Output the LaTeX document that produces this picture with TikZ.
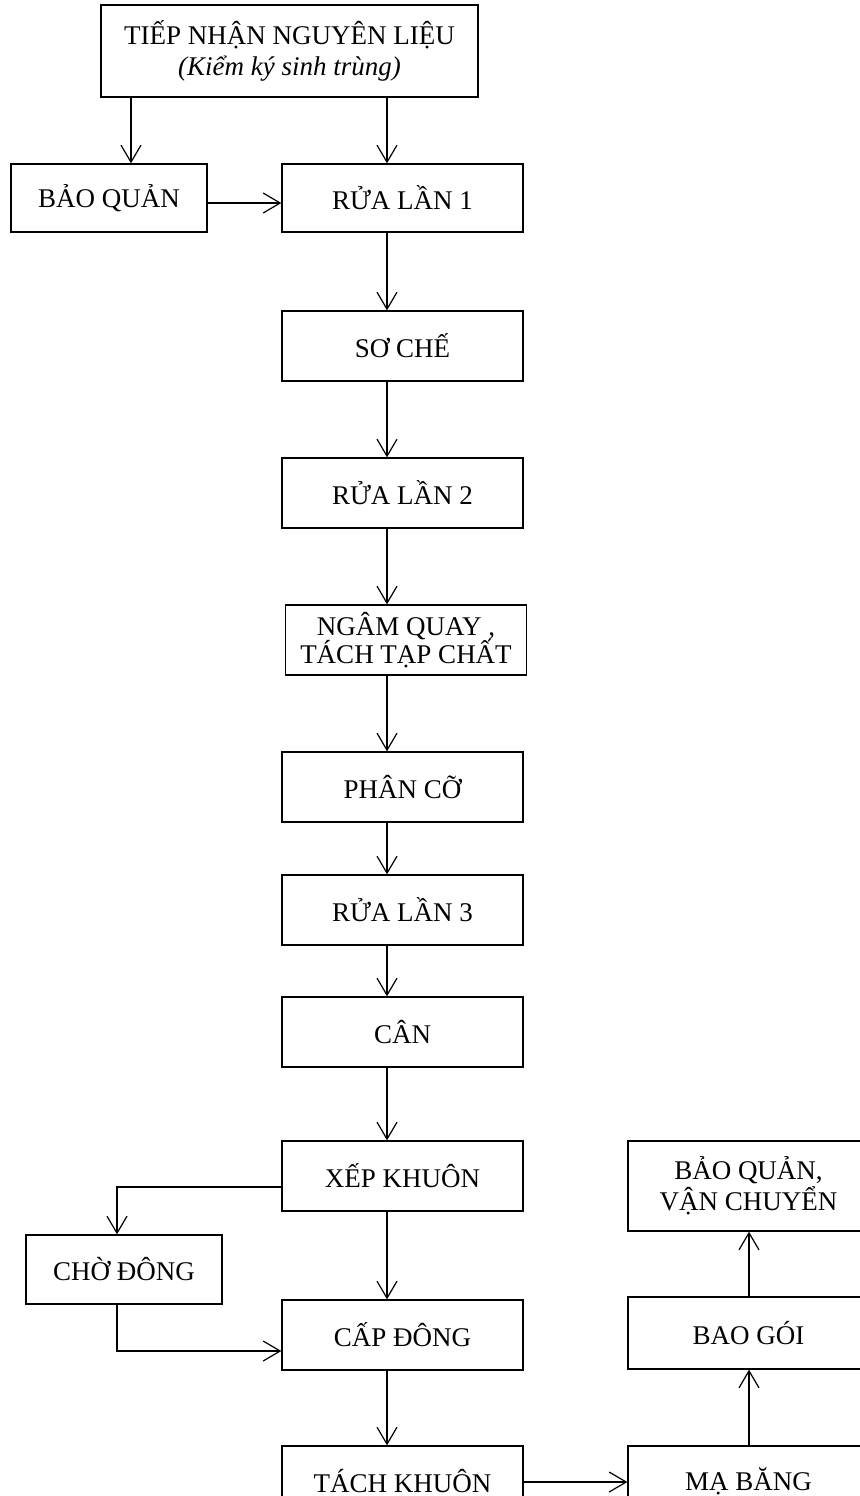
\documentclass[tikz,border=0pt]{standalone}
\usepackage{fontspec}
\setmainfont{Liberation Serif}
\usetikzlibrary{arrows.meta}
\begin{document}
\begin{tikzpicture}[x=0.75pt,y=-0.75pt,
  box/.style={draw,line width=1pt,minimum width=180.75pt,minimum height=52.5pt,inner sep=0pt,align=center,
    font=\fontsize{20.25}{23}\selectfont},
  smallbox/.style={box,minimum width=147pt},
  arr/.style={line width=0.9pt,-{Straight Barb[length=12.75pt,width=15pt,line width=0.9pt]}},
  ln/.style={line width=0.9pt}]
\clip (0,0) rectangle (860,1496);
\fill[white] (0,0) rectangle (860,1496);
% nodes
\node[box,minimum width=282.75pt,minimum height=69pt,font=\fontsize{20.25}{23.5}\selectfont] (top) at (289.5,51) {TIẾP NHẬN NGUYÊN LIỆU\\\textit{(Kiểm ký sinh trùng)}};
\node[smallbox,minimum height=51pt] (bq) at (109,198) {BẢO QUẢN};
\node[box,minimum height=51pt] (r1) at (402.5,198) {RỬA LẦN 1};
\node[box] (sc) at (402.5,346) {SƠ CHẾ};
\node[box] (r2) at (402.5,493) {RỬA LẦN 2};
\node[box,font=\fontsize{20.25}{21.5}\selectfont] (nq) at (406,640) {NGÂM QUAY{} ,\\TÁCH TẠP CHẤT};
\node[box] (pc) at (402.5,787) {PHÂN CỠ};
\node[box] (r3) at (402.5,910) {RỬA LẦN 3};
\node[box] (can) at (402.5,1032) {CÂN};
\node[box] (xk) at (402.5,1176) {XẾP KHUÔN};
\node[smallbox,minimum height=51.75pt] (cd) at (124,1269.5) {CHỜ ĐÔNG};
\node[box] (cap) at (402.5,1335) {CẤP ĐÔNG};
\node[box] (tk) at (402.5,1481) {TÁCH KHUÔN};
\node[box] (mb) at (748.5,1481) {MẠ BĂNG};
\node[box,minimum height=54pt] (bg) at (748.5,1333) {BAO GÓI};
\node[box,minimum height=67.5pt,font=\fontsize{20.25}{23.5}\selectfont] (bv) at (748.5,1186) {BẢO QUẢN,\\VẬN CHUYỂN};
% helper coordinates
\coordinate (mx) at (387,0);
\coordinate (lx) at (131,0);
\coordinate (cx) at (117,0);
\coordinate (rx) at (749,0);
\coordinate (ybq) at (0,203);
\coordinate (yxk) at (0,1187);
\coordinate (ycd) at (0,1351);
\coordinate (ytk) at (0,1482);
% connectors
\draw[arr] (top.south -| lx) -- (bq.north -| lx);
\draw[arr] (top.south -| mx) -- (r1.north -| mx);
\draw[arr] (bq.east |- ybq) -- (r1.west |- ybq);
\draw[arr] (r1.south -| mx) -- (sc.north -| mx);
\draw[arr] (sc.south -| mx) -- (r2.north -| mx);
\draw[arr] (r2.south -| mx) -- (nq.north -| mx);
\draw[arr] (nq.south -| mx) -- (pc.north -| mx);
\draw[arr] (pc.south -| mx) -- (r3.north -| mx);
\draw[arr] (r3.south -| mx) -- (can.north -| mx);
\draw[arr] (can.south -| mx) -- (xk.north -| mx);
\draw[arr] (xk.south -| mx) -- (cap.north -| mx);
\draw[arr] (cap.south -| mx) -- (tk.north -| mx);
\draw[arr] (xk.west |- yxk) -| (cd.north -| cx);
\draw[arr] (cd.south -| cx) |- (cap.west |- ycd);
\draw[arr] (tk.east |- ytk) -- (mb.west |- ytk);
\draw[arr] (mb.north -| rx) -- (bg.south -| rx);
\draw[arr] (bg.north -| rx) -- (bv.south -| rx);
\end{tikzpicture}
\end{document}
